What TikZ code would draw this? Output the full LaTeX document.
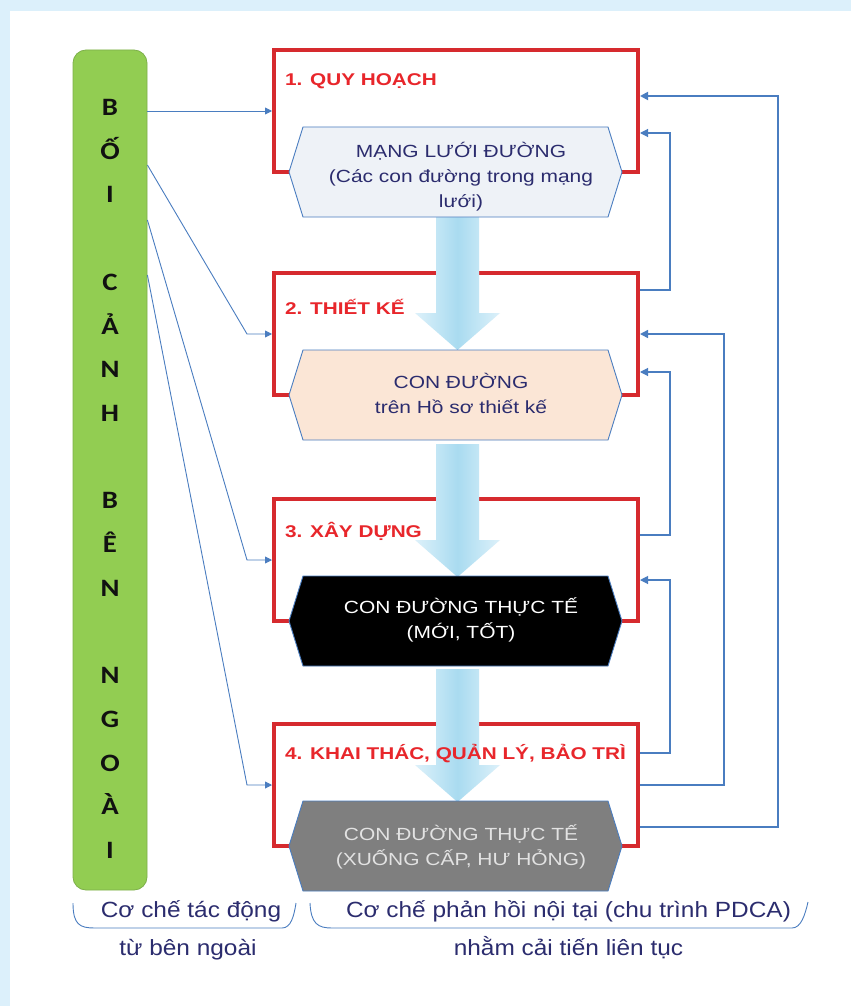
\documentclass[tikz,border=0pt]{standalone}
\usepackage{fontspec}
\setmainfont{Liberation Sans}
\newfontfamily\hexfont[FakeStretch=1.19]{Liberation Sans}
\newfontfamily\titfont[FakeStretch=1.22]{Liberation Sans}
\newfontfamily\botfont[FakeStretch=1.11]{Liberation Sans}
\newfontfamily\letfont[FakeStretch=1.15]{Carlito}
\usetikzlibrary{arrows.meta}
\definecolor{bgblue}{HTML}{DCF0FB}
\definecolor{framered}{HTML}{D62A2E}
\definecolor{titred}{HTML}{E8262B}
\definecolor{lineblue}{HTML}{4A7DC0}
\definecolor{navy}{HTML}{2B2C6E}
\definecolor{barg}{HTML}{92CD52}
\definecolor{bargd}{HTML}{7DB04A}
\definecolor{hexa}{HTML}{EEF2F7}
\definecolor{hexb}{HTML}{FBE6D6}
\definecolor{hexd}{HTML}{7F7F7F}
\definecolor{arrowc}{HTML}{A9DBF0}
\definecolor{arrowl}{HTML}{DDF1FA}
\definecolor{letk}{HTML}{111111}
\definecolor{lgray}{HTML}{E2E2E2}
\begin{document}
\begin{tikzpicture}[x=1pt,y=-1pt,
  frame/.style={draw=framered, line width=4pt, fill=white, minimum width=364pt, minimum height=122pt, inner sep=0pt},
  ext/.style={draw=lineblue, line width=0.9pt, -{Triangle[length=7pt,width=7pt]}},
  fbthin/.style={draw=lineblue, line width=1.1pt, -{Triangle[length=8pt,width=8pt]}},
  fbmid/.style={draw=lineblue, line width=1.5pt, -{Triangle[length=8pt,width=8pt]}},
  fbthick/.style={draw=lineblue, line width=1.8pt, -{Triangle[length=8pt,width=8pt]}},
  hexst/.style={draw=lineblue, line width=0.9pt},
  hextxt/.style={font=\hexfont\fontsize{17.6}{25}\selectfont, align=center, inner sep=0pt},
  tittxt/.style={font=\titfont\bfseries\fontsize{17}{20}\selectfont, text=titred, anchor=base west, inner sep=0pt},
  bottxt/.style={font=\botfont\fontsize{22}{26}\selectfont, text=navy, anchor=base, inner sep=0pt},
  lettxt/.style={font=\letfont\bfseries\fontsize{25}{25}\selectfont, text=letk, anchor=base, inner sep=0pt},
  bigarrow/.style={left color=arrowl, right color=arrowl, middle color=arrowc, draw=none},
  brk/.style={draw=lineblue, line width=0.9pt},
  hexpic/.pic={\path[pic actions] (-166.5,0) -- (-152.5,-45) -- (152.5,-45) -- (166.5,0) -- (152.5,45) -- (-152.5,45) -- cycle;},
  arrowpic/.pic={\path[pic actions] (-21.5,0) -- (21.5,0) -- (21.5,96) -- (42.5,96) -- (0,133) -- (-42.5,96) -- (-21.5,96) -- cycle;}
]
\useasboundingbox (0,0) rectangle (851,1006);
\fill[bgblue] (0,0) rectangle (851,1006);
\fill[white] (10,11) rectangle (851,1006);

% green bar
\node[draw=bargd, fill=barg, line width=0.8pt, rounded corners=13pt, minimum width=74pt, minimum height=840pt, inner sep=0pt] (bar) at (110,470) {};
\foreach \k/\c in {0/B,1/Ố,2/I,4/C,5/Ả,6/N,7/H,9/B,10/Ê,11/N,13/N,14/G,15/O,16/À,17/I}{
  \node[lettxt] (let\k) at (110,{115.5+43.7*\k}) {\c};
}

% boxes
\node[frame] (b1) at (456,111) {};
\node[frame] (b2) at (456,334) {};
\node[frame] (b3) at (456,560) {};
\node[frame] (b4) at (456,785) {};

% external connectors
\draw[ext] (bar.east |- 0,111) -- (b1.west);
\draw[ext] (bar.east |- 0,165) -- (b2.west -| 247,0) -- (b2.west);
\draw[ext] (bar.east |- 0,220) -- (b3.west -| 247,0) -- (b3.west);
\draw[ext] (bar.east |- 0,275) -- (b4.west -| 247,0) -- (b4.west);

% feedback connectors
\draw[fbthin] (b2.east |- 0,290) -| (670,133) -- (b1.east |- 0,133);
\draw[fbthin] (b3.east |- 0,535) -| (670,372) -- (b2.east |- 0,372);
\draw[fbthin] (b4.east |- 0,753) -| (670,580) -- (b3.east |- 0,580);
\draw[fbmid] (b4.east) -| (724,334) -- (b2.east);
\draw[fbthick] (b4.east |- 0,827) -| (778,96) -- (b1.east |- 0,96);

% big arrows
\pic[bigarrow] at (457.5,217) {arrowpic};
\pic[bigarrow] at (457.5,444) {arrowpic};
\pic[bigarrow] at (457.5,669) {arrowpic};

% hexagons
\pic[hexst, fill=hexa] at (455.5,172) {hexpic};
\pic[hexst, fill=hexb] at (455.5,395) {hexpic};
\pic[hexst, fill=black] at (455.5,621) {hexpic};
\pic[hexst, fill=hexd] at (455.5,846) {hexpic};

\node[hextxt, text=navy] (h1) at (461,177) {MẠNG LƯỚI ĐƯỜNG\\(Các con đường trong mạng\\lưới)};
\node[hextxt, text=navy] (h2) at (461,393) {CON ĐƯỜNG\\trên Hồ sơ thiết kế};
\node[hextxt, text=white] (h3) at (461,620) {CON ĐƯỜNG THỰC TẾ\\(MỚI, TỐT)};
\node[hextxt, text=lgray] (h4) at (461,847) {CON ĐƯỜNG THỰC TẾ\\(XUỐNG CẤP, HƯ HỎNG)};

% titles
\node[tittxt] (t1) at (285,86) {1. QUY HOẠCH};
\node[tittxt] (t2) at (285,314) {2. THIẾT KẾ};
\node[tittxt] (t3) at (285,537) {3. XÂY DỰNG};
\node[tittxt] (t4) at (285,759) {4. KHAI THÁC, QUẢN LÝ, BẢO TRÌ};

% bottom brackets and texts
\draw[brk] (73,903) .. controls (73,925) and (80,928) .. (95,928) -- (282,928) .. controls (291,928) and (294,916) .. (296,903);
\draw[brk] (310,903) .. controls (311,924) and (318,928) .. (332,928) -- (792,928) .. controls (801,928) and (805,915) .. (808,902);
\node[bottxt] (e1) at (191,917) {Cơ chế tác động};
\node[bottxt] (e2) at (188,955) {từ bên ngoài};
\node[bottxt] (e3) at (568.5,917) {Cơ chế phản hồi nội tại (chu trình PDCA)};
\node[bottxt] (e4) at (568.5,955) {nhằm cải tiến liên tục};
\end{tikzpicture}
\end{document}
